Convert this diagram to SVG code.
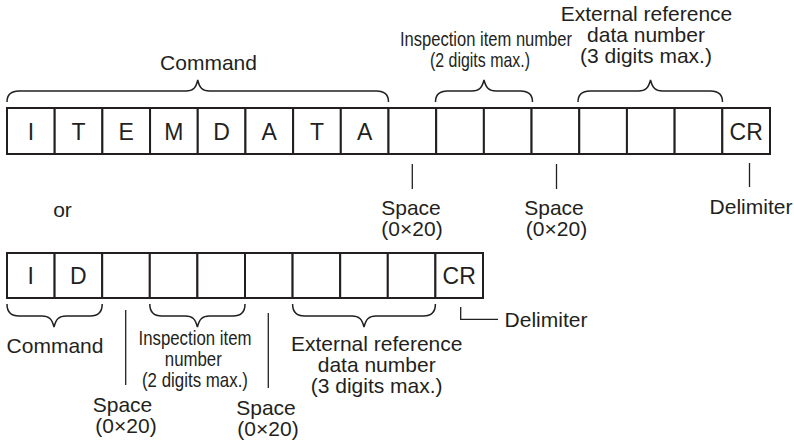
<svg xmlns="http://www.w3.org/2000/svg" width="794" height="442" viewBox="0 0 794 442">
<style>
.cell{fill:#fff;stroke:#231f20;stroke-width:2}
.ch{font-family:"Liberation Sans",Arial,sans-serif;font-size:23px;fill:#231f20;text-anchor:middle}
.lbl{font-family:"Liberation Sans",Arial,sans-serif;font-size:21px;fill:#231f20;text-anchor:middle}
.cnd{font-family:"Liberation Sans",Arial,sans-serif;font-size:21px;fill:#231f20;text-anchor:middle}
.brace{fill:none;stroke:#231f20;stroke-width:1.5}
.tick{fill:none;stroke:#231f20;stroke-width:1.3}
</style>
<rect width="794" height="442" fill="#fff"/>
<g id="row1">
<g id="c1-0"><rect class="cell" x="7" y="108" width="47.69" height="46"/><text class="ch" x="30.84" y="139.5">I</text></g>
<g id="c1-1"><rect class="cell" x="54.69" y="108" width="47.69" height="46"/><text class="ch" x="78.53" y="139.5">T</text></g>
<g id="c1-2"><rect class="cell" x="102.38" y="108" width="47.69" height="46"/><text class="ch" x="126.22" y="139.5">E</text></g>
<g id="c1-3"><rect class="cell" x="150.06" y="108" width="47.69" height="46"/><text class="ch" x="173.91" y="139.5">M</text></g>
<g id="c1-4"><rect class="cell" x="197.75" y="108" width="47.69" height="46"/><text class="ch" x="221.59" y="139.5">D</text></g>
<g id="c1-5"><rect class="cell" x="245.44" y="108" width="47.69" height="46"/><text class="ch" x="269.28" y="139.5">A</text></g>
<g id="c1-6"><rect class="cell" x="293.13" y="108" width="47.69" height="46"/><text class="ch" x="316.97" y="139.5">T</text></g>
<g id="c1-7"><rect class="cell" x="340.81" y="108" width="47.69" height="46"/><text class="ch" x="364.66" y="139.5">A</text></g>
<g id="c1-8"><rect class="cell" x="388.5" y="108" width="47.69" height="46"/></g>
<g id="c1-9"><rect class="cell" x="436.19" y="108" width="47.69" height="46"/></g>
<g id="c1-10"><rect class="cell" x="483.88" y="108" width="47.69" height="46"/></g>
<g id="c1-11"><rect class="cell" x="531.56" y="108" width="47.69" height="46"/></g>
<g id="c1-12"><rect class="cell" x="579.25" y="108" width="47.69" height="46"/></g>
<g id="c1-13"><rect class="cell" x="626.94" y="108" width="47.69" height="46"/></g>
<g id="c1-14"><rect class="cell" x="674.63" y="108" width="47.69" height="46"/></g>
<g id="c1-15"><rect class="cell" x="722.31" y="108" width="47.69" height="46"/><text class="ch" x="746.16" y="139.5">CR</text></g>
</g>
<g id="row2">
<g id="c2-0"><rect class="cell" x="7" y="253" width="47.6" height="45"/><text class="ch" x="30.8" y="284">I</text></g>
<g id="c2-1"><rect class="cell" x="54.6" y="253" width="47.6" height="45"/><text class="ch" x="78.4" y="284">D</text></g>
<g id="c2-2"><rect class="cell" x="102.2" y="253" width="47.6" height="45"/></g>
<g id="c2-3"><rect class="cell" x="149.8" y="253" width="47.6" height="45"/></g>
<g id="c2-4"><rect class="cell" x="197.4" y="253" width="47.6" height="45"/></g>
<g id="c2-5"><rect class="cell" x="245" y="253" width="47.6" height="45"/></g>
<g id="c2-6"><rect class="cell" x="292.6" y="253" width="47.6" height="45"/></g>
<g id="c2-7"><rect class="cell" x="340.2" y="253" width="47.6" height="45"/></g>
<g id="c2-8"><rect class="cell" x="387.8" y="253" width="47.6" height="45"/></g>
<g id="c2-9"><rect class="cell" x="435.4" y="253" width="47.6" height="45"/><text class="ch" x="459.2" y="284">CR</text></g>
</g>
<g id="connectors">
<path class="brace" d="M7,102 C7,95 10,91 19,91 L186,91 C193,91 196,88 197.75,80 C199.5,88 202.5,91 209.5,91 L376.5,91 C385.5,91 388.5,95 388.5,102"/>
<path class="brace" d="M435.5,102 C435.5,95 438.5,91 447.5,91 L472,91 C479,91 482,88 484,80 C486,88 489,91 496,91 L520.5,91 C529.5,91 532.5,95 532.5,102"/>
<path class="brace" d="M578,102 C578,95 581,91 590,91 L638.5,91 C645.5,91 648.5,88 650.5,80 C652.5,88 655.5,91 662.5,91 L710.5,91 C719.5,91 722.5,95 722.5,102"/>
<path class="brace" d="M7,304 C7,311 10,316 19,316 L42,316 C49,316 52,319 54,327 C56,319 59,316 66,316 L90.2,316 C99.2,316 102.2,311 102.2,304"/>
<path class="brace" d="M149.8,304 C149.8,311 152.8,316 161.8,316 L185.4,316 C192.4,316 195.4,319 197.4,327 C199.4,319 202.4,316 209.4,316 L233,316 C242,316 245,311 245,304"/>
<path class="brace" d="M292.6,304 C292.6,311 295.6,316 304.6,316 L352,316 C359,316 362,319 364,327 C366,319 369,316 376,316 L423.4,316 C432.4,316 435.4,311 435.4,304"/>
<line class="tick" x1="412.3" y1="164" x2="412.3" y2="189"/>
<line class="tick" x1="556.5" y1="164" x2="556.5" y2="189"/>
<line class="tick" x1="749.5" y1="163" x2="749.5" y2="187"/>
<line class="tick" x1="125.7" y1="310" x2="125.7" y2="385"/>
<line class="tick" x1="268.3" y1="313" x2="268.3" y2="388"/>
<path class="tick" d="M460.7,307 L460.7,319.3 L498,319.3"/>
</g>
<g id="labels">
<text class="lbl" x="208.5" y="70">Command</text>
<text class="cnd" x="486" y="46" textLength="172" lengthAdjust="spacingAndGlyphs">Inspection item number</text>
<text class="cnd" x="480" y="67" textLength="100" lengthAdjust="spacingAndGlyphs">(2 digits max.)</text>
<text class="lbl" x="646.5" y="21">External reference</text>
<text class="lbl" x="646" y="42">data number</text>
<text class="lbl" x="646" y="63">(3 digits max.)</text>
<text class="lbl" x="62.5" y="217">or</text>
<text class="lbl" x="411" y="215">Space</text>
<text class="lbl" x="412" y="235.5">(0×20)</text>
<text class="lbl" x="554" y="215">Space</text>
<text class="lbl" x="556.5" y="235.5">(0×20)</text>
<text class="lbl" x="751" y="214">Delimiter</text>
<text class="lbl" x="55" y="353">Command</text>
<text class="cnd" x="195" y="345" textLength="113" lengthAdjust="spacingAndGlyphs">Inspection item</text>
<text class="cnd" x="193.3" y="366" textLength="57" lengthAdjust="spacingAndGlyphs">number</text>
<text class="cnd" x="195" y="387" textLength="106" lengthAdjust="spacingAndGlyphs">(2 digits max.)</text>
<text class="lbl" x="376.7" y="351">External reference</text>
<text class="lbl" x="376.7" y="372">data number</text>
<text class="lbl" x="376.7" y="393">(3 digits max.)</text>
<text class="lbl" x="122.5" y="411.5">Space</text>
<text class="lbl" x="126" y="433">(0×20)</text>
<text class="lbl" x="266" y="415">Space</text>
<text class="lbl" x="268" y="436">(0×20)</text>
<text class="lbl" x="546" y="327">Delimiter</text>
</g>
</svg>
